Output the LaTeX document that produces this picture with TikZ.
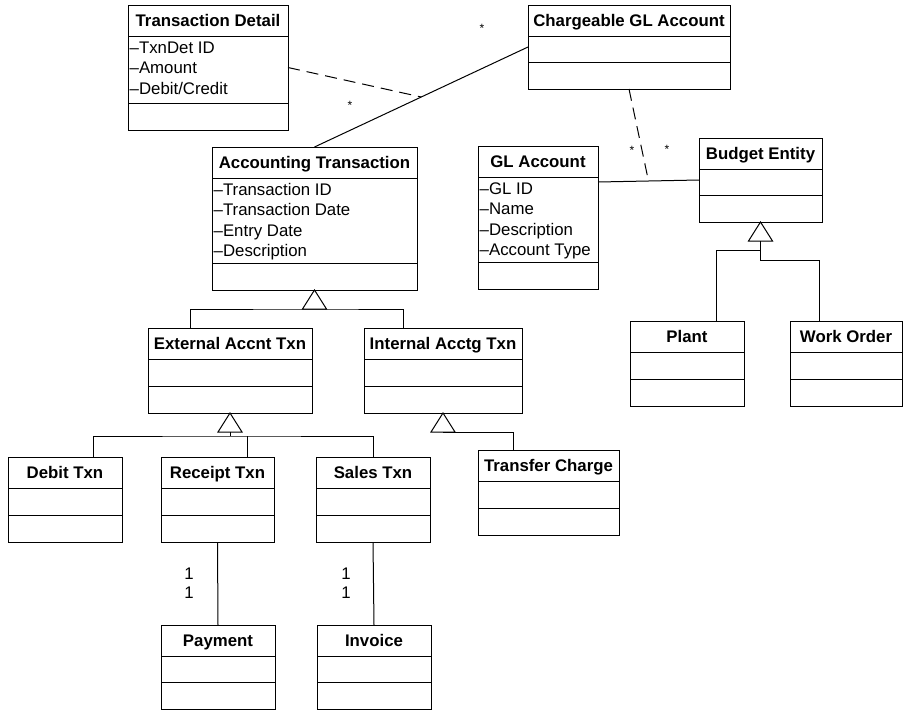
\documentclass[tikz,border=0pt]{standalone}
\usepackage{fontspec}
\setmainfont{Liberation Sans}
\usetikzlibrary{calc}
\tikzset{
  cls/.style={draw, line width=1pt, inner sep=0pt, outer sep=0pt, anchor=north west},
  ttl/.style={font=\fontsize{16.8}{20}\selectfont\bfseries, inner sep=0pt, anchor=base},
  attr/.style={font=\fontsize{16.8}{20}\selectfont, inner sep=0pt, anchor=base west},
  mult/.style={font=\fontsize{16.8}{20}\selectfont, inner sep=0pt, anchor=base},
  star/.style={font=\fontsize{12}{14}\selectfont, inner sep=0pt},
  link/.style={line width=1pt},
  dep/.style={line width=1pt, dash pattern=on 12pt off 7pt},
}
% class box: name, x, y (top left), width, title, height of attribute rows
\newcommand{\umlclass}[6]{%
  \pgfmathsetmacro{\clsh}{31+#6+27}
  \node[cls, minimum width=#4pt, minimum height=\clsh pt] (#1) at (#2,#3) {};
  \draw[link] ([yshift=-31pt]#1.north west) -- ([yshift=-31pt]#1.north east);
  \draw[link] ([yshift=27pt]#1.south west) -- ([yshift=27pt]#1.south east);
  \node[ttl] (#1-t) at ([yshift=-21.5pt]#1.north) {#5};
}
% attribute lines of a class
\newcommand{\umlattrs}[2]{%
  \foreach \fld [count=\i] in {#2} {
    \node[attr] (#1-a\i) at ([xshift=1.5pt, yshift={-48pt-(\i-1)*20.5pt}]#1.north west) {\fld};
  }
}
% hollow generalization triangle hanging under a parent
\newcommand{\inherit}[1]{\draw[link, fill=white] (#1) -- ++(-12,19) -- ++(24,0) -- cycle;}

\begin{document}
\begin{tikzpicture}[x=1pt, y=-1pt]
\useasboundingbox (0,0) rectangle (903,710);

% upper classes
\umlclass{txndet}{128}{5}{160}{Transaction Detail}{67}
\umlattrs{txndet}{--TxnDet ID, --Amount, --Debit/Credit}
\umlclass{chgl}{528}{5}{202}{Chargeable GL Account}{26}
\umlclass{acct}{212}{147}{205}{Accounting Transaction}{85}
\umlattrs{acct}{--Transaction ID, --Transaction Date, --Entry Date, --Description}
\umlclass{glacct}{478}{146}{120}{GL Account}{85}
\umlattrs{glacct}{--GL ID, --Name, --Description, --Account Type}
\umlclass{budget}{699}{138}{123}{Budget Entity}{26}

% subclasses
\umlclass{ext}{148}{328}{164}{External Accnt Txn}{27}
\umlclass{int}{364}{328}{158}{Internal Acctg Txn}{27}
\umlclass{plant}{630}{321}{114}{Plant}{27}
\umlclass{work}{790}{321}{112}{Work Order}{27}
\umlclass{debit}{8}{457}{114}{Debit Txn}{27}
\umlclass{receipt}{161}{457}{113}{Receipt Txn}{27}
\umlclass{sales}{316}{457}{114}{Sales Txn}{27}
\umlclass{transfer}{478}{450}{141}{Transfer Charge}{27}
\umlclass{payment}{161}{625}{114}{Payment}{26}
\umlclass{invoice}{317}{625}{114}{Invoice}{26}

% associations and association classes
\draw[link] (acct.north) -- (chgl.west);
\coordinate (acct-chgl) at ($(acct.north)!0.5!(chgl.west)$);
\draw[dep] (txndet.east) -- (acct-chgl);
\draw[link] ([yshift=-36pt]glacct.north east) -- (budget.west);
\coordinate (gl-budget) at ($([yshift=-36pt]glacct.north east)!0.5!(budget.west)$);
\draw[dep] (chgl.south) -- (gl-budget);
\draw[link] (receipt.south) -- (payment.north);
\draw[link] (sales.south) -- (invoice.north);

\foreach \p [count=\i] in {(482,28), (350,105), (632,150), (667,149)}
  \node[star] (star\i) at \p {*};
\foreach \x/\y [count=\i] in {189/579, 189/598, 346/579, 346/598}
  \node[mult] (mult\i) at (\x,\y) {1};

% generalizations
\inherit{acct.south}
\coordinate (acct-base) at ([yshift=-19pt]acct.south);
\draw[link] ([xshift=-40pt]ext.north) |- (acct-base) -| ([xshift=-40pt]int.north);

\inherit{ext.south}
\coordinate (ext-base) at ([yshift=-19pt]ext.south);
\coordinate (ext-bar) at ([yshift=-23pt]ext.south);
\draw[link] (ext-base) -- (ext-bar);
\draw[link] ([xshift=28pt]debit.north) |- (ext-bar) -| (sales.north);
\draw[link] ([xshift=30pt]receipt.north) -- ([xshift=30pt]receipt.north |- ext-bar);

\inherit{int.south}
\coordinate (int-base) at ([yshift=-19pt]int.south);
\draw[link] (int-base) -| ([xshift=-35pt]transfer.north);

\inherit{budget.south}
\coordinate (budget-base) at ([yshift=-19pt]budget.south);
\coordinate (budget-fork1) at ([yshift=-28pt]budget.south);
\coordinate (budget-fork2) at ([yshift=-38pt]budget.south);
\draw[link] ([xshift=29pt]plant.north) |- (budget-fork1) -- (budget-base);
\draw[link] (budget-fork1) -- (budget-fork2) -| ([xshift=-27pt]work.north);

\end{tikzpicture}
\end{document}
